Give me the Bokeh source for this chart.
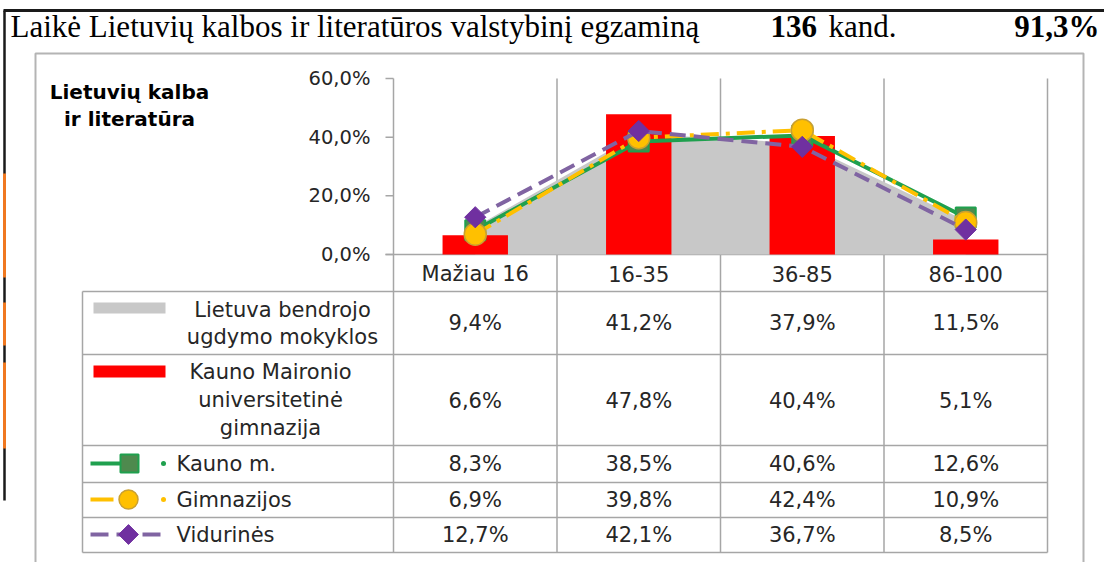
import numpy as np
from bokeh.plotting import figure
from bokeh.models import Range1d
from bokeh.core.properties import value
from bokeh.embed import file_html
from bokeh.resources import INLINE

# ---------------- data ----------------
categories = ["Mažiau 16", "16-35", "36-85", "86-100"]
lietuva = [9.4, 41.2, 37.9, 11.5]        # Lietuva bendrojo ugdymo mokyklos (area)
maironio = [6.6, 47.8, 40.4, 5.1]        # Kauno Maironio universitetinė gimnazija (bars)
kauno = [8.3, 38.5, 40.6, 12.6]          # Kauno m.
gimnazijos = [6.9, 39.8, 42.4, 10.9]     # Gimnazijos
vidurines = [12.7, 42.1, 36.7, 8.5]      # Vidurinės
y_ticks = [0, 20, 40, 60]
row_labels = [
    ["Lietuva bendrojo", "ugdymo mokyklos"],
    ["Kauno Maironio", "universitetinė", "gimnazija"],
    ["Kauno m."],
    ["Gimnazijos"],
    ["Vidurinės"],
]
title_text = "Laikė Lietuvių kalbos ir literatūros valstybinį egzaminą"
count_num = "136"
count_unit = "kand."
share_text = "91,3%"
subject_lines = ["Lietuvių kalba", "ir literatūra"]


def pct(v):
    return f"{v:.1f}%".replace(".", ",")


# ---------------- layout (page pixels) ----------------
W, H, M = 1104, 562, 0
AX_X = 393.0          # page x of category boundary 0
CAT_W = 163.5         # px per category
Y0 = 254.0            # page y of 0 %
PX_PER = 176.0 / 60   # px per percent


def dx(P):
    return (P - AX_X) / CAT_W


def dy(P):
    return (Y0 - P) / PX_PER


SANS = "DejaVu Sans"
SERIF = "Liberation Serif"
TXT = "#262626"
GRID = "#a6a6a6"

p = figure(width=W, height=H, output_backend="svg", toolbar_location=None,
           x_range=Range1d(dx(M), dx(M + W)), y_range=Range1d(dy(M + H), dy(M)),
           x_axis_location=None, y_axis_location=None, min_border=0)
p.xgrid.visible = False
p.ygrid.visible = False
p.outline_line_color = None
p.background_fill_color = "white"


def txt(x, y, s, size, align="center", baseline="middle", font=SANS, style="normal", color=TXT):
    p.text(x=[x], y=[y], text=[s], text_font=value(font), text_font_size=f"{size}px",
           text_align=align, text_baseline=baseline, text_font_style=style, text_color=color)


# page rules (black), orange margin marks and outer gray frame
p.segment(x0=[dx(3)], y0=[dy(10)], x1=[dx(1104)], y1=[dy(10)], line_color="#1a1a1a", line_width=3)
p.segment(x0=[dx(4)], y0=[dy(10)], x1=[dx(4)], y1=[dy(500)], line_color="#1a1a1a", line_width=2.5)
p.segment(x0=[dx(4)] * 3, y0=[dy(173), dy(302), dy(362)], x1=[dx(4)] * 3, y1=[dy(277), dy(345), dy(448)],
          line_color="#f07820", line_width=3)
p.line(x=[dx(35), dx(35), dx(1083), dx(1083)], y=[dy(562), dy(53), dy(53), dy(562)],
       line_color="#b4b4b4", line_width=2)

# title row
txt(dx(10), dy(25.5), title_text, 31, align="left", font=SERIF, color="black")
txt(dx(770), dy(25.5), count_num, 31, align="left", font=SERIF, style="bold", color="black")
txt(dx(828), dy(25.5), count_unit, 31, align="left", font=SERIF, color="black")
txt(dx(1099), dy(25.5), share_text, 31, align="right", font=SERIF, style="bold", color="black")

# subject label
txt(dx(129), dy(91), subject_lines[0], 20, style="bold", color="black")
txt(dx(129), dy(118), subject_lines[1], 20, style="bold", color="black")

# y axis ticks and labels
p.segment(x0=[dx(385)] * len(y_ticks), y0=y_ticks, x1=[0] * len(y_ticks), y1=y_ticks,
          line_color=GRID, line_width=1.5)
p.text(x=[dx(370)] * len(y_ticks), y=y_ticks, text=[pct(v) for v in y_ticks],
       text_font=value(SANS), text_font_size="19.5px", text_align="right",
       text_baseline="middle", text_color=TXT)

# table / grid lines
row_lines = [291, 354, 445, 482, 517, 552]
bottom = dy(552)
p.segment(x0=[0, 1, 2, 3, 4], y0=[max(y_ticks)] * 5, x1=[0, 1, 2, 3, 4], y1=[bottom] * 5,
          line_color=GRID, line_width=1.5)
p.segment(x0=[dx(82)], y0=[dy(291)], x1=[dx(82)], y1=[bottom], line_color=GRID, line_width=1.5)
p.segment(x0=[dx(385)], y0=[0], x1=[4], y1=[0], line_color=GRID, line_width=1.5)
p.segment(x0=[dx(82)] * len(row_lines), y0=[dy(v) for v in row_lines],
          x1=[4] * len(row_lines), y1=[dy(v) for v in row_lines], line_color=GRID, line_width=1.5)

# ---------------- chart marks ----------------
xc = [i + 0.5 for i in range(len(categories))]
p.varea(x=xc, y1=[0] * len(xc), y2=lietuva, fill_color="#c8c8c8")
p.vbar(x=xc, top=maironio, bottom=0, width=0.4, fill_color="#ff0000", line_color=None)

GREEN, GREEN_M = "#1fa04e", "#4e8a4e"
YEL, YEL_E = "#ffc000", "#caa030"
PUR, PUR_M = "#8064a2", "#7030a0"

p.line(x=xc, y=kauno, line_color=GREEN, line_width=4)
p.scatter(x=xc, y=kauno, marker="square", size=20, fill_color=GREEN_M, line_color=GREEN, line_width=2)
p.line(x=xc, y=gimnazijos, line_color=YEL, line_width=4, line_dash="18 7 4 7")
p.scatter(x=xc, y=gimnazijos, marker="circle", size=22, fill_color=YEL, line_color=YEL_E, line_width=1.5)
p.line(x=xc, y=vidurines, line_color=PUR, line_width=4, line_dash="16 8")
p.scatter(x=xc, y=vidurines, marker="square", angle=np.pi / 4, size=15, fill_color=PUR_M, line_color=PUR_M)

# ---------------- data table ----------------
txt_size = 21
p.text(x=xc, y=[dy(273)] * 4, text=categories, text_font=value(SANS), text_font_size=f"{txt_size}px",
       text_align="center", text_baseline="middle", text_color=TXT)
row_centers = [322.5, 400.5, 463.5, 499.5, 534.5]
for rc, series in zip(row_centers, [lietuva, maironio, kauno, gimnazijos, vidurines]):
    p.text(x=xc, y=[dy(rc)] * 4, text=[pct(v) for v in series], text_font=value(SANS),
           text_font_size=f"{txt_size}px", text_align="center", text_baseline="middle", text_color=TXT)

# legend keys
p.quad(left=[dx(93)], right=[dx(165)], top=[dy(302)], bottom=[dy(313)], fill_color="#c8c8c8", line_color=None)
p.quad(left=[dx(93)], right=[dx(165)], top=[dy(365)], bottom=[dy(377)], fill_color="#ff0000", line_color=None)

p.segment(x0=[dx(90)], y0=[dy(463)], x1=[dx(125)], y1=[dy(463)], line_color=GREEN, line_width=4)
p.scatter(x=[dx(129)], y=[dy(463)], marker="square", size=18, fill_color=GREEN_M, line_color=GREEN, line_width=2)
p.scatter(x=[dx(163)], y=[dy(463)], marker="circle", size=5, fill_color=GREEN, line_color=None)

p.segment(x0=[dx(90)], y0=[dy(499)], x1=[dx(113)], y1=[dy(499)], line_color=YEL, line_width=4)
p.scatter(x=[dx(128)], y=[dy(499)], marker="circle", size=19, fill_color=YEL, line_color=YEL_E, line_width=1.5)
p.scatter(x=[dx(163)], y=[dy(499)], marker="circle", size=5, fill_color=YEL, line_color=None)

p.segment(x0=[dx(90)], y0=[dy(534)], x1=[dx(160)], y1=[dy(534)], line_color=PUR, line_width=4, line_dash="18 8")
p.scatter(x=[dx(128)], y=[dy(534)], marker="square", angle=np.pi / 4, size=14, fill_color=PUR_M, line_color=PUR_M)

# legend labels
for s, yy in zip(row_labels[0], [309, 336]):
    txt(dx(282), dy(yy), s, txt_size)
for s, yy in zip(row_labels[1], [371, 399, 427]):
    txt(dx(270), dy(yy), s, txt_size)
for s, yy in zip([row_labels[2][0], row_labels[3][0], row_labels[4][0]], [463, 499, 534]):
    txt(dx(176), dy(yy), s, txt_size, align="left")

open("out.html", "w").write(file_html(p, INLINE))
